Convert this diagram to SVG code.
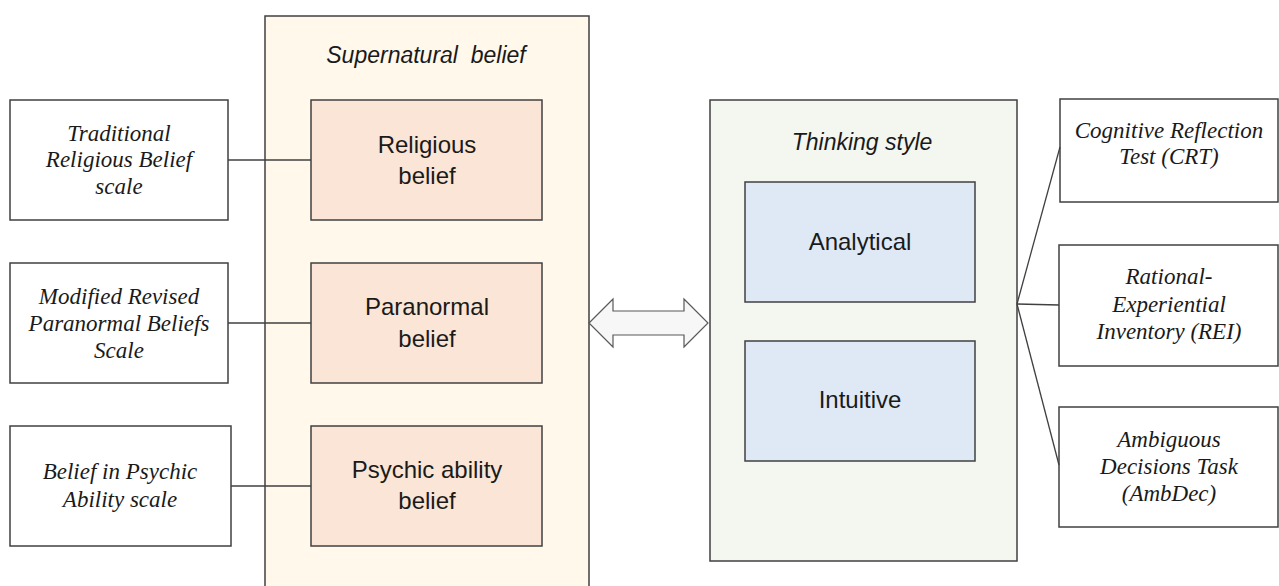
<svg xmlns="http://www.w3.org/2000/svg" width="1279" height="586" viewBox="0 0 1279 586">
<style>
.box{fill:#ffffff;stroke:#404040;stroke-width:1.5}
.outerA{fill:#fff8eb;stroke:#404040;stroke-width:1.5}
.outerB{fill:#f3f7f0;stroke:#404040;stroke-width:1.5}
.peach{fill:#fbe5d6;stroke:#404040;stroke-width:1.5}
.blue{fill:#dfe9f5;stroke:#404040;stroke-width:1.5}
.ser{font-family:"Liberation Serif",serif;font-style:italic;font-size:23px;fill:#1a1a1a;text-anchor:middle}
.sans{font-family:"Liberation Sans",Arial,sans-serif;font-size:24px;fill:#1a1a1a;text-anchor:middle}
.ttl{font-family:"Liberation Sans",Arial,sans-serif;font-style:italic;font-size:23px;fill:#1a1a1a;text-anchor:middle;white-space:pre}
.conn line{stroke:#404040;stroke-width:1.3}
</style>
<rect width="1279" height="586" fill="#ffffff"/>
<g id="supernatural">
<rect class="outerA" x="265" y="16" width="324" height="580"/>
<text class="ttl" x="426" y="63" xml:space="preserve">Supernatural  belief</text>
</g>
<g id="religious">
<rect class="peach" x="311" y="100" width="231" height="120"/>
<text class="sans" x="427" y="153">Religious</text>
<text class="sans" x="427" y="184">belief</text>
</g>
<g id="paranormal">
<rect class="peach" x="311" y="263" width="231" height="120"/>
<text class="sans" x="427" y="315">Paranormal</text>
<text class="sans" x="427" y="347">belief</text>
</g>
<g id="psychic">
<rect class="peach" x="311" y="426" width="231" height="120"/>
<text class="sans" x="427" y="478">Psychic ability</text>
<text class="sans" x="427" y="509">belief</text>
</g>
<g id="trb">
<rect class="box" x="10" y="100" width="218" height="120"/>
<text class="ser" x="119" y="141">Traditional</text>
<text class="ser" x="119" y="167">Religious Belief</text>
<text class="ser" x="119" y="194">scale</text>
</g>
<g id="rpbs">
<rect class="box" x="10" y="263" width="218" height="120"/>
<text class="ser" x="119" y="304">Modified Revised</text>
<text class="ser" x="119" y="331">Paranormal Beliefs</text>
<text class="ser" x="119" y="358">Scale</text>
</g>
<g id="bpas">
<rect class="box" x="10" y="426" width="221" height="120"/>
<text class="ser" x="120" y="479">Belief in Psychic</text>
<text class="ser" x="120" y="507">Ability scale</text>
</g>
<g id="thinking">
<rect class="outerB" x="710" y="100" width="307" height="461"/>
<text class="ttl" x="862" y="150">Thinking style</text>
</g>
<g id="analytical">
<rect class="blue" x="745" y="182" width="230" height="120"/>
<text class="sans" x="860" y="250">Analytical</text>
</g>
<g id="intuitive">
<rect class="blue" x="745" y="341" width="230" height="120"/>
<text class="sans" x="860" y="408">Intuitive</text>
</g>
<g id="crt">
<rect class="box" x="1060" y="99" width="218" height="103"/>
<text class="ser" x="1169" y="138">Cognitive Reflection</text>
<text class="ser" x="1169" y="164">Test (CRT)</text>
</g>
<g id="rei">
<rect class="box" x="1059" y="245" width="219" height="121"/>
<text class="ser" x="1169" y="284">Rational-</text>
<text class="ser" x="1169" y="312">Experiential</text>
<text class="ser" x="1169" y="339">Inventory (REI)</text>
</g>
<g id="ambdec">
<rect class="box" x="1059" y="407" width="219" height="120"/>
<text class="ser" x="1169" y="447">Ambiguous</text>
<text class="ser" x="1169" y="474">Decisions Task</text>
<text class="ser" x="1169" y="501">(AmbDec)</text>
</g>
<g id="connectors" class="conn">
<line x1="228" y1="160" x2="311" y2="160"/>
<line x1="228" y1="323" x2="311" y2="323"/>
<line x1="231" y1="486" x2="311" y2="486"/>
<line x1="1017" y1="304" x2="1060" y2="147"/>
<line x1="1017" y1="304" x2="1059" y2="305"/>
<line x1="1017" y1="304" x2="1059" y2="465"/>
<path d="M589,323 L613,299 L613,311 L684,311 L684,299 L708,323 L684,347 L684,335 L613,335 L613,347 Z" fill="#f7f7f7" stroke="#595959" stroke-width="1.2"/>
</g>
</svg>
